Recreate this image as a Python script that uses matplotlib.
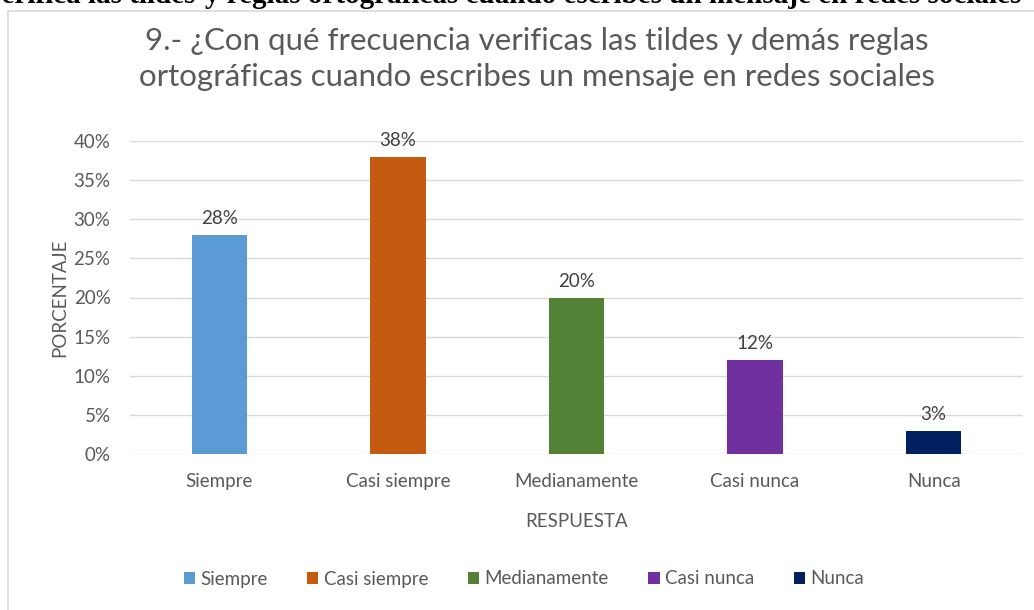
import matplotlib.pyplot as plt
from matplotlib.patches import Rectangle
from matplotlib.ticker import PercentFormatter

categorias = ['Siempre', 'Casi siempre', 'Medianamente', 'Casi nunca', 'Nunca']
porcentajes = [28, 38, 20, 12, 3]
colores = ['#5B9BD5', '#C55A11', '#538135', '#7030A0', '#002060']

titulo = '9.- ¿Con qué frecuencia verificas las tildes y demás reglas\nortográficas cuando escribes un mensaje en redes sociales'
gris = '#595959'

plt.rcParams['font.family'] = ['Lato', 'DejaVu Sans']

fig = plt.figure(figsize=(10.34, 6.10), dpi=100)

# texto cortado del documento, arriba (solo se ve la parte de abajo)
fig.text(203 / 1034, 1 - 9 / 610, 'verifica las tildes ', ha='right', va='bottom',
         fontsize=21, fontweight='bold', family='Liberation Serif', color='black')
fig.text(205 / 1034, 1 - 9 / 610, 'y reglas ortográficas cuando escribes un mensaje en redes sociales',
         ha='left', va='bottom', fontsize=21, fontweight='bold', family='Liberation Serif', color='black')

# marco del grafico
fig.patches.append(Rectangle((8 / 1034, -0.1), 1.2, 1 - 11 / 610 + 0.1, transform=fig.transFigure,
                             fill=False, edgecolor='#D9D9D9', linewidth=1.2))

ax = fig.add_axes([130 / 1034, 1 - 454 / 610, 893 / 1034, 313 / 610])
x = list(range(len(categorias)))
barras = ax.bar(x, porcentajes, width=0.31, color=colores, label=categorias, zorder=3)
for xi, v in zip(x, porcentajes):
    ax.text(xi, v + 1.0, f'{v}%', ha='center', va='bottom', fontsize=13.5, color='#404040')

ax.set_xlim(-0.5, 4.5)
ax.set_ylim(0, 40)
ax.set_yticks(range(0, 41, 5))
ax.yaxis.set_major_formatter(PercentFormatter(decimals=0))
ax.set_xticks(x)
ax.set_xticklabels(categorias)
ax.tick_params(axis='both', length=0, labelsize=13.5, labelcolor=gris)
ax.tick_params(axis='x', pad=14)
ax.tick_params(axis='y', pad=14)
ax.grid(axis='y', color='#D9D9D9', linewidth=1, zorder=0)
for s in ax.spines.values():
    s.set_visible(False)

ax.set_xlabel('RESPUESTA', fontsize=13.5, color=gris, labelpad=16)
ax.set_ylabel('PORCENTAJE', fontsize=13.5, color=gris, labelpad=4)

fig.text(537 / 1034, 1 - 59 / 610, titulo, ha='center', va='center', fontsize=22.5,
         color=gris, linespacing=1.38)

fig.legend(barras, categorias, loc='center', bbox_to_anchor=(524 / 1034, 1 - 579 / 610),
           ncol=5, frameon=False, fontsize=13.5, labelcolor=gris, handlelength=0.6,
           handleheight=0.6, handletextpad=0.3, columnspacing=2.1)

fig.savefig('out.png', dpi=100)
